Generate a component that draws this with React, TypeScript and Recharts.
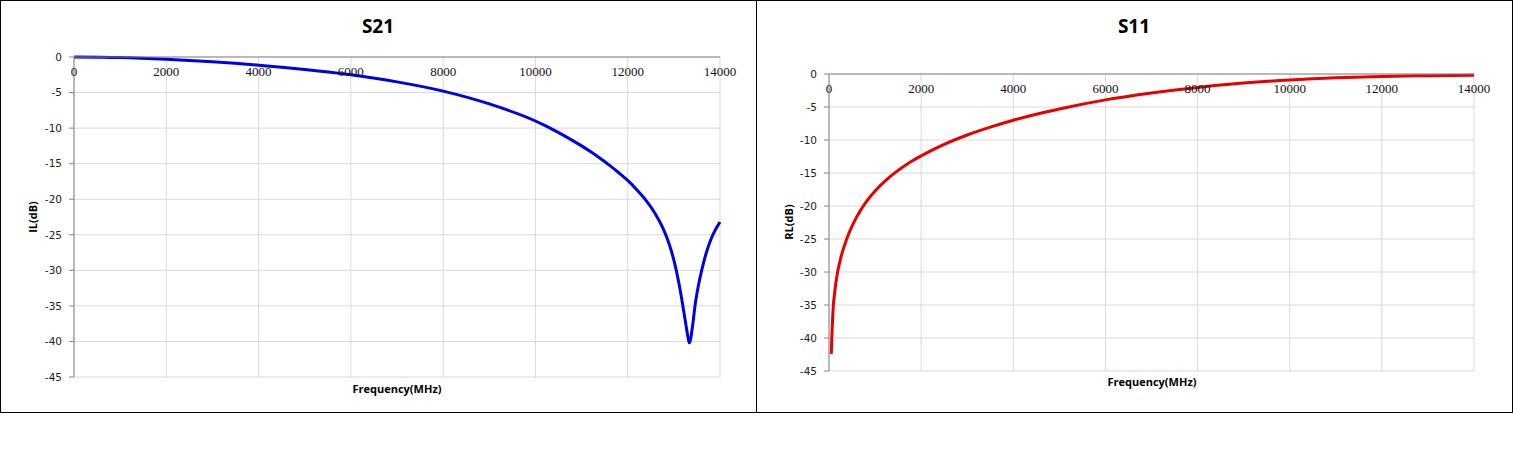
import { LineChart, Line, XAxis, YAxis, CartesianGrid } from "recharts";

// S21 insertion loss (MHz, dB)
const s21Freq = [
    0, 1000, 2000, 3000, 4000, 5000, 6000, 7000, 8000, 9000, 10000, 10200, 10400,
    10600, 10800, 11000, 11200, 11400, 11600, 11800, 12000, 12200, 12400, 12600,
    12750, 12850, 12950, 13050, 13120, 13190, 13260, 13300, 13320, 13335, 13350,
    13370, 13410, 13458, 13530, 13603, 13700, 13800, 13900, 14000,
];
const s21Loss = [
    0, -0.08, -0.32, -0.68, -1.15, -1.75, -2.5, -3.5, -4.8, -6.6, -9.0, -9.62, -10.28,
    -10.98, -11.72, -12.5, -13.34, -14.24, -15.2, -16.24, -17.36, -18.7, -20.2, -22.07,
    -23.89, -25.42, -27.36, -29.93, -32.18, -34.8, -37.6, -39.2, -39.9, -40.2, -40.0,
    -39.4, -37.6, -35, -32.2, -30, -27.6, -25.7, -24.3, -23.2,
];

// S11 return loss (MHz, dB)
const s11Freq = [
    50, 60, 70, 80, 95, 120, 150, 190, 250, 384, 500, 745, 1000, 1250, 1500, 1750,
    2000, 2500, 3000, 3500, 4000, 4500, 5000, 6000, 7000, 8000, 9000, 10000, 11000,
    12000, 13000, 14000,
];
const s11Return = [
    -42.4, -40.2, -38.4, -36.9, -35.0, -33.3, -31.6, -29.9, -28.0, -25.0, -23.05, -20.0,
    -17.73, -16.0, -14.6, -13.4, -12.4, -10.66, -9.24, -8.04, -7.0, -6.1, -5.3, -3.92,
    -2.87, -2.03, -1.38, -0.91, -0.58, -0.38, -0.26, -0.2,
];

const xTicks = [0, 2000, 4000, 6000, 8000, 10000, 12000, 14000];
const yTicks = [0, -5, -10, -15, -20, -25, -30, -35, -40, -45];

const s21Data = s21Freq.map((f, i) => ({ freq: f, value: s21Loss[i] }));
const s11Data = s11Freq.map((f, i) => ({ freq: f, value: s11Return[i] }));

const AXIS = "#868686";
const GRID = "#d9d9d9";

// Excel puts the labels just under the axis line, which sits at the top (0 dB)
const XTick = (props: any) => (
    <text
        x={props.x}
        y={props.y + 19}
        textAnchor="middle"
        fontFamily="'Liberation Serif', serif"
        fontSize={13}
        fill="#111"
    >
        {props.payload.value}
    </text>
);

interface PanelProps {
    data: { freq: number; value: number }[];
    color: string;
    width: number;
    height: number;
    margin: { top: number; right: number; bottom: number; left: number };
    yWidth: number;
}

function Panel({ data, color, width, height, margin, yWidth }: PanelProps) {
    return (
        <LineChart width={width} height={height} data={data} margin={margin}>
            <CartesianGrid stroke={GRID} strokeWidth={1} />
            <XAxis
                dataKey="freq"
                type="number"
                domain={[0, 14000]}
                ticks={xTicks}
                interval={0}
                orientation="top"
                height={20}
                tickSize={0}
                tickMargin={0}
                tickLine={false}
                axisLine={{ stroke: AXIS }}
                tick={XTick}
            />
            <YAxis
                type="number"
                domain={[-45, 0]}
                ticks={yTicks}
                interval={0}
                width={yWidth}
                tickSize={5}
                tickMargin={7}
                axisLine={{ stroke: AXIS }}
                tickLine={{ stroke: AXIS }}
                tick={{ fontFamily: "'DejaVu Sans', sans-serif", fontSize: 10.5, fill: "#222" }}
            />
            <Line
                type="monotone"
                dataKey="value"
                stroke={color}
                strokeWidth={3}
                dot={false}
                isAnimationActive={false}
            />
        </LineChart>
    );
}

export default function App() {
    const panelStyle: React.CSSProperties = {
        position: "absolute",
        top: 0,
        width: 757,
        height: 413,
        border: "1px solid #000",
        boxSizing: "border-box",
        background: "#fff",
    };
    return (
        <div style={{ position: "absolute", left: 0, top: 0, width: 1513, height: 460, background: "#fff" }}>
            <div style={{ ...panelStyle, left: 0 }}>
                <Panel
                    data={s21Data}
                    color="#0000e6"
                    width={755}
                    height={411}
                    margin={{ top: 36, right: 36, bottom: 35, left: 0 }}
                    yWidth={73}
                />
            </div>
            <div style={{ ...panelStyle, left: 756 }}>
                <Panel
                    data={s11Data}
                    color="#e60000"
                    width={755}
                    height={411}
                    margin={{ top: 53, right: 38, bottom: 41, left: 0 }}
                    yWidth={72}
                />
            </div>
            <svg
                width={1513}
                height={413}
                style={{ position: "absolute", left: 0, top: 0, pointerEvents: "none" }}
            >
                <g fontFamily="'Open Sans', sans-serif" fontWeight="bold" fill="#000">
                    <text x={378} y={33} textAnchor="middle" fontSize={19}>S21</text>
                    <text x={1134} y={33} textAnchor="middle" fontSize={19}>S11</text>
                    <text x={397} y={393} textAnchor="middle" fontSize={11}>Frequency(MHz)</text>
                    <text x={1152} y={386} textAnchor="middle" fontSize={11}>Frequency(MHz)</text>
                    <text x={37} y={217} textAnchor="middle" fontSize={11} transform="rotate(-90 37 217)">IL(dB)</text>
                    <text x={793} y={222} textAnchor="middle" fontSize={11} transform="rotate(-90 793 222)">RL(dB)</text>
                </g>
            </svg>
        </div>
    );
}
